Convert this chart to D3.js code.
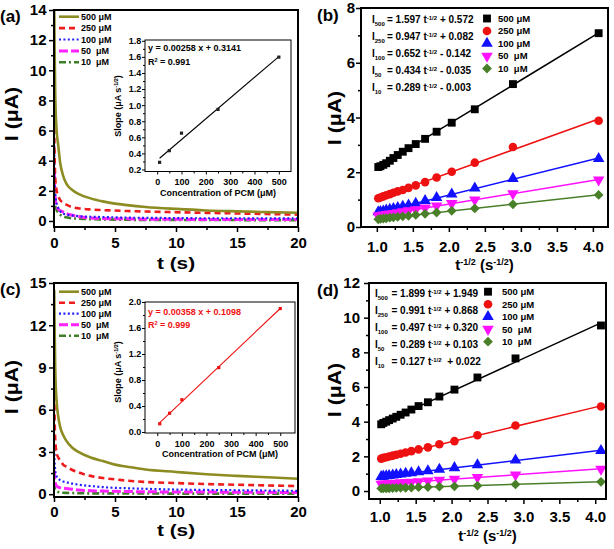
<!DOCTYPE html>
<html><head><meta charset="utf-8">
<script src="https://cdn.jsdelivr.net/npm/d3@7"></script>
<style>
body{margin:0;background:#fff}
svg{display:block;font-family:"Liberation Sans",Arial,sans-serif;font-weight:bold}
text{white-space:pre}
</style>
</head><body><svg id="c" width="614" height="549"></svg>
<script>
// ---------- DATA ----------
const concLabels = ["500 μM", "250 μM", "100 μM", "50  μM", "10  μM"];
const concSub = ["500", "250", "100", "50", "10"];
const curveColors = ["#8c8c22", "#ee1c1c", "#1f1fff", "#ff22ff", "#3f7f2a"];
const markerColors = ["#000000", "#ee1111", "#1111ff", "#ff11ff", "#4a7f2a"];

// chronoamperograms, time axis (s)
const times = [0.02, 0.05, 0.1, 0.2, 0.35, 0.5, 0.75, 1, 1.5, 2, 3, 4, 5, 6, 7.5, 10, 12.5, 15, 17.5, 20];
// panel (a) currents (μA)
const curA500 = [14.5, 11.5, 8.5, 6.2, 5.0, 3.9, 3.0, 2.5, 2.05, 1.8, 1.5, 1.3, 1.15, 1.05, 0.93, 0.8, 0.7, 0.64, 0.59, 0.55];
const curA250 = [6.2, 4.3, 2.9, 2.1, 1.65, 1.4, 1.2, 1.08, 0.92, 0.84, 0.76, 0.72, 0.69, 0.66, 0.63, 0.58, 0.54, 0.5, 0.46, 0.42];
const curA100 = [5.0, 3.0, 1.8, 1.2, 0.85, 0.65, 0.5, 0.42, 0.36, 0.32, 0.28, 0.26, 0.24, 0.22, 0.21, 0.19, 0.18, 0.18, 0.17, 0.17];
const curA50  = [3.3, 2.3, 1.5, 1.05, 0.8, 0.68, 0.6, 0.5, 0.38, 0.3, 0.2, 0.17, 0.15, 0.14, 0.12, 0.11, 0.1, 0.1, 0.1, 0.1];
const curA10  = [2.0, 1.4, 1.0, 0.75, 0.55, 0.42, 0.3, 0.24, 0.18, 0.15, 0.12, 0.1, 0.09, 0.08, 0.07, 0.07, 0.06, 0.06, 0.05, 0.05];
// panel (c) currents (μA)
const curC500 = [14.5, 12, 9, 6.8, 5.5, 4.8, 4.2, 3.8, 3.3, 3.0, 2.6, 2.35, 2.1, 1.95, 1.75, 1.58, 1.42, 1.3, 1.2, 1.1];
const curC250 = [7.8, 5.5, 3.9, 3.0, 2.6, 2.4, 2.1, 1.95, 1.72, 1.55, 1.3, 1.15, 1.05, 0.96, 0.87, 0.79, 0.72, 0.67, 0.62, 0.58];
const curC100 = [3.5, 2.4, 1.7, 1.3, 1.1, 1.0, 0.9, 0.85, 0.75, 0.68, 0.58, 0.5, 0.45, 0.42, 0.38, 0.33, 0.3, 0.28, 0.26, 0.24];
const curC50  = [1.7, 1.1, 0.8, 0.6, 0.5, 0.46, 0.43, 0.4, 0.35, 0.3, 0.25, 0.22, 0.2, 0.19, 0.17, 0.16, 0.15, 0.14, 0.13, 0.12];
const curC10  = [0.8, 0.5, 0.3, 0.2, 0.15, 0.12, 0.1, 0.09, 0.08, 0.07, 0.06, 0.06, 0.05, 0.05, 0.05, 0.04, 0.04, 0.04, 0.04, 0.04];

// Cottrell plots: t^-1/2 values (s^-1/2)
const tInvSqrt = [4.08, 2.89, 2.36, 2.04, 1.83, 1.67, 1.54, 1.44, 1.36, 1.29, 1.23, 1.18, 1.13, 1.09, 1.05, 1.02];
// panel (b)
const cotB500 = [7.08, 5.22, 4.30, 3.81, 3.48, 3.22, 3.03, 2.88, 2.75, 2.63, 2.52, 2.42, 2.33, 2.27, 2.22, 2.19];
const cotB250 = [3.88, 2.92, 2.35, 2.02, 1.81, 1.64, 1.52, 1.43, 1.35, 1.30, 1.25, 1.20, 1.16, 1.12, 1.08, 1.05];
const cotB100 = [2.50, 1.77, 1.42, 1.20, 1.07, 0.96, 0.86, 0.80, 0.75, 0.71, 0.67, 0.64, 0.61, 0.58, 0.56, 0.55];
const cotB50  = [1.72, 1.22, 0.99, 0.86, 0.77, 0.70, 0.64, 0.60, 0.56, 0.53, 0.50, 0.48, 0.46, 0.44, 0.42, 0.41];
const cotB10  = [1.17, 0.83, 0.68, 0.59, 0.53, 0.48, 0.44, 0.41, 0.39, 0.37, 0.35, 0.34, 0.32, 0.31, 0.30, 0.28];
const slopesB = [1.597, 0.947, 0.652, 0.434, 0.289];
const interceptsB = [0.572, 0.082, -0.142, -0.035, -0.003];
// panel (d)
const cotD500 = [9.55, 7.65, 6.55, 5.85, 5.45, 5.12, 4.90, 4.70, 4.53, 4.40, 4.28, 4.18, 4.09, 4.00, 3.93, 3.85];
const cotD250 = [4.88, 3.78, 3.22, 2.88, 2.70, 2.52, 2.40, 2.30, 2.22, 2.15, 2.09, 2.04, 1.99, 1.95, 1.91, 1.87];
const cotD100 = [2.33, 1.78, 1.50, 1.34, 1.24, 1.16, 1.10, 1.05, 1.01, 0.97, 0.94, 0.91, 0.89, 0.87, 0.85, 0.83];
const cotD50  = [1.27, 0.94, 0.79, 0.69, 0.63, 0.59, 0.55, 0.52, 0.50, 0.48, 0.46, 0.44, 0.43, 0.42, 0.41, 0.40];
const cotD10  = [0.53, 0.38, 0.31, 0.27, 0.25, 0.23, 0.22, 0.20, 0.19, 0.19, 0.18, 0.17, 0.16, 0.16, 0.16, 0.15];
const slopesD = [1.899, 0.991, 0.497, 0.289, 0.127];
const interceptsD = [1.949, 0.868, 0.320, 0.103, 0.022];

// insets: slope vs concentration
const concValues = [10, 50, 100, 250, 500];
const insetSlopesA = [0.289, 0.434, 0.652, 0.947, 1.597];
const insetSlopesC = [0.127, 0.289, 0.497, 0.991, 1.899];
const insetFitA = {m: 0.00258, b: 0.3141, eq: "y = 0.00258 x + 0.3141", r2: "0.991"};
const insetFitC = {m: 0.00358, b: 0.1098, eq: "y = 0.00358 x + 0.1098", r2: "0.999"};

// tick values
const ticksA_y = [0, 2, 4, 6, 8, 10, 12, 14], minorA_y = [1, 3, 5, 7, 9, 11, 13];
const ticksC_y = [0, 3, 6, 9, 12, 15], minorC_y = [1.5, 4.5, 7.5, 10.5, 13.5];
const ticksT = [0, 5, 10, 15, 20], minorT = [2.5, 7.5, 12.5, 17.5];
const ticksB_y = [0, 2, 4, 6, 8], minorB_y = [1, 3, 5, 7];
const ticksD_y = [0, 2, 4, 6, 8, 10, 12], minorD_y = [1, 3, 5, 7, 9, 11];
const ticksX = [1.0, 1.5, 2.0, 2.5, 3.0, 3.5, 4.0], minorX = [1.25, 1.75, 2.25, 2.75, 3.25, 3.75];
const insetTicksX = [0, 100, 200, 300, 400, 500], insetMinorX = [50, 150, 250, 350, 450];
const insetTicksA_y = [0.2, 0.4, 0.6, 0.8, 1.0, 1.2, 1.4, 1.6, 1.8], insetMinorA_y = [0.3, 0.5, 0.7, 0.9, 1.1, 1.3, 1.5, 1.7];
const insetTicksC_y = [0.0, 0.4, 0.8, 1.2, 1.6, 2.0], insetMinorC_y = [0.2, 0.6, 1.0, 1.4, 1.8];

// ---------- DRAWING ----------
const svg = d3.select("#c");
const dashes = [null, "6,4", "2,2.4", "9,3", "7,3,2,3"];
const widths = [2.6, 2.6, 2.2, 3, 2.6];
const symTypes = [d3.symbolSquare, d3.symbolCircle, d3.symbolTriangle, d3.symbolTriangle, d3.symbolSquare];
const symRot = [0, 0, 0, 180, 45];
const symSize = [62, 58, 58, 58, 48];

function axes(g, x, y, o) {
  const [x0, x1] = x.range(), [y0b, y1t] = y.range();
  g.append("g").attr("transform", `translate(0,${y0b})`)
    .call(d3.axisBottom(x).tickValues(o.xt).tickSize(o.tl).tickPadding(o.xpad).tickFormat(o.xf));
  g.append("g").attr("transform", `translate(0,${y0b})`)
    .call(d3.axisBottom(x).tickValues(o.xm).tickSize(o.tm).tickFormat(""));
  g.append("g").attr("transform", `translate(${x0},0)`)
    .call(d3.axisLeft(y).tickValues(o.yt).tickSize(o.tl).tickPadding(o.ypad).tickFormat(o.yf));
  g.append("g").attr("transform", `translate(${x0},0)`)
    .call(d3.axisLeft(y).tickValues(o.ym).tickSize(o.tm).tickFormat(""));
  g.selectAll(".domain").remove();
  g.selectAll(".tick line").attr("stroke", "#000").attr("stroke-width", o.tw);
  g.selectAll(".tick text").attr("font-size", o.fs).attr("font-weight", "bold")
    .attr("font-family", '"Liberation Sans",Arial,sans-serif').attr("fill", "#000");
  g.append("rect").attr("x", x0).attr("y", y1t).attr("width", x1 - x0).attr("height", y0b - y1t)
    .attr("fill", "none").attr("stroke", "#000").attr("stroke-width", o.fw);
}

// parts: [text, mode(0 normal, 1 sup, -1 sub), size]
function supText(sel, parts) {
  parts.forEach(p => {
    sel.append("tspan").attr("font-size", p[2]).attr("baseline-shift", p[1] === 1 ? "super" : p[1] === -1 ? "sub" : "baseline").text(p[0]);
  });
}
// same with explicit dy shifts (for titles)
function supTextDy(sel, parts, shift) {
  let cur = 0;
  parts.forEach(p => {
    const target = p[1] === 1 ? -shift : 0;
    sel.append("tspan").attr("font-size", p[2]).attr("dy", target - cur).text(p[0]);
    cur = target;
  });
}

let clipId = 0;
function clip(g, x, y) {
  const id = "clip" + (clipId++);
  const [x0, x1] = x.range(), [yb, yt] = y.range();
  g.append("clipPath").attr("id", id).append("rect").attr("x", x0).attr("y", yt).attr("width", x1 - x0).attr("height", yb - yt);
  return g.append("g").attr("clip-path", `url(#${id})`);
}

function ampPanel(o) {
  const g = svg.append("g");
  const x = d3.scaleLinear().domain([0, 20]).range([o.fx0, o.fx1]);
  const y = d3.scaleLinear().domain(o.ydom).range([o.fy1, o.fy0]);
  const cg = clip(g, x, y);
  const line = d3.line().x(d => x(d[0])).y(d => y(d[1])).curve(d3.curveMonotoneX);
  o.series.slice().reverse().forEach((s, ri) => {
    const i = 4 - ri;
    cg.append("path").attr("d", line(times.map((t, k) => [t, s[k]])))
      .attr("fill", "none").attr("stroke", curveColors[i]).attr("stroke-width", widths[i])
      .attr("stroke-dasharray", dashes[i]);
  });
  axes(g, x, y, {xt: ticksT, xm: minorT, yt: o.yt, ym: o.ym, tl: 5, tm: 3, xpad: o.xpad, ypad: 2.5,
    xf: d3.format("d"), yf: d3.format("d"), fs: 15, tw: 1.5, fw: 2});
  // legend
  concLabels.forEach((lab, i) => {
    const yy = o.legY + i * o.legStep;
    g.append("line").attr("x1", 59).attr("x2", 79).attr("y1", yy).attr("y2", yy)
      .attr("stroke", curveColors[i]).attr("stroke-width", widths[i]).attr("stroke-dasharray", dashes[i]);
    g.append("text").attr("x", 81).attr("y", yy).attr("dy", "0.35em").attr("font-size", 9).text(lab);
  });
  // titles
  g.append("text").attr("x", 0).attr("y", o.fy0 + 12).attr("font-size", 17).text(o.label);
  g.append("text").attr("transform", `translate(18,${o.ytc}) rotate(-90) scale(1.12,1)`).attr("text-anchor", "middle")
    .attr("font-size", 19).text("I (μA)");
  g.append("text").attr("transform", `translate(${(o.fx0 + o.fx1) / 2},${o.xtb}) scale(1.3,1)`).attr("text-anchor", "middle")
    .attr("font-size", 16).text("t (s)");
  // inset
  const I = o.inset;
  const ig = svg.append("g");
  const ix = d3.scaleLinear().domain(I.xdom).range([I.x0, I.x1]);
  const iy = d3.scaleLinear().domain(I.ydom).range([I.y1, I.y0]);
  ig.append("rect").attr("x", I.x0).attr("y", I.y0).attr("width", I.x1 - I.x0).attr("height", I.y1 - I.y0).attr("fill", "#fff");
  ig.append("line").attr("x1", ix(10)).attr("x2", ix(500))
    .attr("y1", iy(I.fit.m * 10 + I.fit.b)).attr("y2", iy(I.fit.m * 500 + I.fit.b))
    .attr("stroke", I.color).attr("stroke-width", 1.1);
  ig.selectAll("rect.pt").data(concValues).join("rect").attr("class", "pt")
    .attr("x", (d) => ix(d) - 1.6).attr("y", (d, k) => iy(I.vals[k]) - 1.6)
    .attr("width", 3.2).attr("height", 3.2).attr("fill", I.color === "#000" ? "#222" : I.color);
  axes(ig, ix, iy, {xt: insetTicksX, xm: insetMinorX, yt: I.yt, ym: I.ym, tl: 3, tm: 2, xpad: I.xpad, ypad: 0.8,
    xf: d3.format("d"), yf: d3.format(".1f"), fs: 9, tw: 1, fw: 1});
  ig.append("text").attr("x", 148).attr("y", I.eqY).attr("font-size", 9).attr("fill", I.color).text(I.fit.eq);
  const r = ig.append("text").attr("x", 148).attr("y", I.eqY + I.eqStep).attr("font-size", 9).attr("fill", I.color);
  supText(r, [["R", 0, 9], ["2", 1, 5.5], [" = " + I.fit.r2, 0, 9]]);
  ig.append("text").attr("x", (I.x0 + I.x1) / 2).attr("y", I.xtb).attr("text-anchor", "middle")
    .attr("font-size", 9).text("Concentration of PCM (μM)");
  const yt = ig.append("text").attr("transform", `translate(121,${I.ytc}) rotate(-90)`).attr("text-anchor", "middle").attr("font-size", 9);
  supText(yt, [["Slope (μA s", 0, 9], ["-1/2", 1, 5.5], [")", 0, 9]]);
}

function cotPanel(o) {
  const g = svg.append("g");
  const x = d3.scaleLinear().domain(o.xdom).range([o.fx0, o.fx1]);
  const y = d3.scaleLinear().domain(o.ydom).range([o.fy1, o.fy0]);
  const cg = clip(g, x, y);
  o.series.forEach((s, i) => {
    cg.append("line").attr("x1", x(1.0)).attr("x2", x(4.08))
      .attr("y1", y(o.slopes[i] * 1.0 + o.icpt[i])).attr("y2", y(o.slopes[i] * 4.08 + o.icpt[i]))
      .attr("stroke", markerColors[i]).attr("stroke-width", 1.5);
  });
  o.series.forEach((s, i) => {
    const sym = d3.symbol().type(symTypes[i]).size(symSize[i]);
    cg.selectAll(null).data(tInvSqrt).join("path")
      .attr("d", sym)
      .attr("transform", (d, k) => `translate(${x(d)},${y(s[k])}) rotate(${symRot[i]})`)
      .attr("fill", markerColors[i]);
  });
  axes(g, x, y, {xt: ticksX, xm: minorX, yt: o.yt, ym: o.ym, tl: 5, tm: 3, xpad: o.xpad, ypad: o.ypad,
    xf: d3.format(".1f"), yf: d3.format("d"), fs: 15, tw: 1.5, fw: 2});
  // legend
  concLabels.forEach((lab, i) => {
    const yy = o.legY + i * 12.5;
    g.append("path").attr("d", d3.symbol().type(symTypes[i]).size(symSize[i])())
      .attr("transform", `translate(${o.symX},${yy}) rotate(${symRot[i]})`).attr("fill", markerColors[i]);
    g.append("text").attr("x", o.legTX).attr("y", yy).attr("dy", "0.35em").attr("font-size", 9.5).text(lab);
  });
  // equations
  concSub.forEach((sub, i) => {
    const yy = o.eqY + i * o.eqStep;
    const t1 = g.append("text").attr("x", o.eqX).attr("y", yy).attr("dy", "0.35em").attr("font-size", 10);
    supText(t1, [["I", 0, 10], [sub, -1, 6]]);
    const ic = o.icpt[i];
    const t2 = g.append("text").attr("x", o.eqX2).attr("y", yy).attr("dy", "0.35em").attr("font-size", 10);
    supText(t2, [["= " + o.slopes[i].toFixed(3) + " t", 0, 10], ["-1/2", 1, 6],
      [(o.extraSp && i === 4 ? "  " : " ") + (ic < 0 ? "- " : "+ ") + Math.abs(ic).toFixed(3), 0, 10]]);
  });
  g.append("text").attr("x", o.labX).attr("y", o.fy0 + 13).attr("font-size", 17).text(o.label);
  g.append("text").attr("transform", `translate(${o.ytx},${o.ytc}) rotate(-90) scale(1.12,1)`).attr("text-anchor", "middle")
    .attr("font-size", 19).text("I (μA)");
  const xt = g.append("text").attr("x", (o.fx0 + o.fx1) / 2).attr("y", o.xtb).attr("text-anchor", "middle").attr("font-size", 15);
  supTextDy(xt, [["t", 0, 15], ["-1/2", 1, 9], [" (s", 0, 15], ["-1/2", 1, 9], [")", 0, 15]], 5);
}

ampPanel({fx0: 54, fx1: 298, fy0: 10, fy1: 227, ydom: [-0.4, 14], yt: ticksA_y, ym: minorA_y, xpad: 5.4,
  series: [curA500, curA250, curA100, curA50, curA10], legY: 16.7, legStep: 11.4, label: "(a)", ytc: 114, xtb: 268.5,
  inset: {x0: 145, x1: 291, y0: 40, y1: 171.5, xdom: [-50, 550], ydom: [0.175, 1.81], yt: insetTicksA_y, ym: insetMinorA_y,
    xpad: 4.5, vals: insetSlopesA, fit: insetFitA, color: "#000", eqY: 50.5, eqStep: 14, xtb: 196, ytc: 106}});

ampPanel({fx0: 54, fx1: 298, fy0: 283, fy1: 497, ydom: [-0.2, 15], yt: ticksC_y, ym: minorC_y, xpad: 4.2,
  series: [curC500, curC250, curC100, curC50, curC10], legY: 291.7, legStep: 11, label: "(c)", ytc: 387, xtb: 536,
  inset: {x0: 145, x1: 295, y0: 302, y1: 433, xdom: [-50, 560], ydom: [-0.015, 2.0], yt: insetTicksC_y, ym: insetMinorC_y,
    xpad: 5, vals: insetSlopesC, fit: insetFitC, color: "#ee1111", eqY: 315, eqStep: 12.5, xtb: 457, ytc: 372}});

cotPanel({fx0: 361, fx1: 608, fy0: 8, fy1: 227, xdom: [0.78, 4.21], ydom: [0, 8], yt: ticksB_y, ym: minorB_y,
  xpad: 9.5, ypad: 1, series: [cotB500, cotB250, cotB100, cotB50, cotB10], slopes: slopesB, icpt: interceptsB,
  legY: 18.5, symX: 487, legTX: 498, eqY: 19.5, eqStep: 17, eqX: 372, eqX2: 387, extraSp: false,
  label: "(b)", labX: 317, ytx: 341, ytc: 118, xtb: 270});

cotPanel({fx0: 369, fx1: 606, fy0: 283, fy1: 499, xdom: [0.85, 4.15], ydom: [-0.46, 12], yt: ticksD_y, ym: minorD_y,
  xpad: 7.2, ypad: 4, series: [cotD500, cotD250, cotD100, cotD50, cotD10], slopes: slopesD, icpt: interceptsD,
  legY: 291.7, symX: 488, legTX: 502, eqY: 293.5, eqStep: 16.9, eqX: 375, eqX2: 391.5, extraSp: true,
  label: "(d)", labX: 317, ytx: 341, ytc: 390, xtb: 541});
</script>
</body></html>
